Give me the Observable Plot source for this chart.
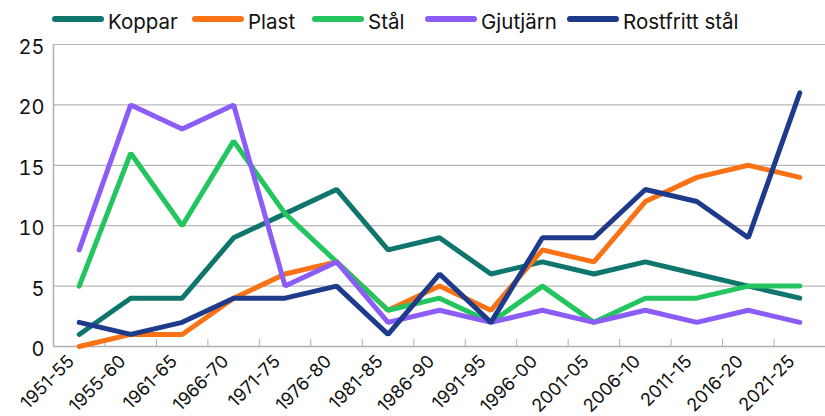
<!DOCTYPE html>
<html>
<head>
<meta charset="utf-8">
<script src="https://cdn.jsdelivr.net/npm/d3@7"></script>
<script src="https://cdn.jsdelivr.net/npm/@observablehq/plot@0.6"></script>
<style>
  body { margin: 0; background: #fff; font-family: Inter, "Noto Sans", sans-serif; }
  #wrap { position: relative; width: 825px; height: 416px; }
  .item { position: absolute; top: 9px; height: 24px; display: flex; align-items: center; font-size: 20.5px; color: #111; white-space: nowrap; }
  .sw { width: 52px; height: 6px; border-radius: 3px; margin-right: 4px; margin-top: -5px; }
</style>
</head>
<body>
<div id="wrap">
<div id="chart"></div>
<div id="legend"></div>
</div>
<script>
const categories = ["1951-55","1955-60","1961-65","1966-70","1971-75","1976-80","1981-85","1986-90","1991-95","1996-00","2001-05","2006-10","2011-15","2016-20","2021-25"];
const seriesNames = ["Koppar","Plast","Stål","Gjutjärn","Rostfritt stål"];
const koppar    = [1,4,4,9,11,13,8,9,6,7,6,7,6,5,4];
const plast     = [0,1,1,4,6,7,3,5,3,8,7,12,14,15,14];
const stal      = [5,16,10,17,11,7,3,4,2,5,2,4,4,5,5];
const gjutjarn  = [8,20,18,20,5,7,2,3,2,3,2,3,2,3,2];
const rostfritt = [2,1,2,4,4,5,1,6,2,9,9,13,12,9,21];
const yTicks = [0,5,10,15,20,25];
const colors = ["#0f766e","#f97316","#22c55e","#8b5cf6","#1e3a8a"];
const legendLeft = [52, 192, 312, 425, 567];

const seriesValues = [koppar, plast, stal, gjutjarn, rostfritt];
const data = [];
seriesNames.forEach((s, k) => seriesValues[k].forEach((v, i) => data.push({series: s, i, value: v})));
const idx = categories.map((_, i) => i);
const boundaries = d3.range(-0.5, categories.length, 1);

const legend = document.getElementById("legend");
seriesNames.forEach((s, k) => {
  const it = document.createElement("div");
  it.className = "item";
  it.style.left = legendLeft[k] + "px";
  it.innerHTML = `<div class="sw" style="background:${colors[k]}"></div><span>${s}</span>`;
  legend.appendChild(it);
});

const chart = Plot.plot({
  width: 825,
  height: 416,
  marginTop: 44,
  marginLeft: 53,
  marginRight: 0,
  marginBottom: 70,
  style: {fontFamily: "Inter, 'Noto Sans', sans-serif", background: "#fff"},
  x: {domain: [-0.5, categories.length - 0.5]},
  y: {domain: [0, 25]},
  color: {domain: seriesNames, range: colors},
  marks: [
    Plot.gridY(yTicks.filter(d => d > 0), {stroke: "#b8b8b8", strokeOpacity: 1, strokeWidth: 1.2}),
    Plot.ruleY([0], {stroke: "#b0b0b0", strokeWidth: 1.5}),
    Plot.ruleX([-0.5], {stroke: "#b0b0b0", strokeWidth: 1.5}),
    Plot.axisY({ticks: yTicks, tickSize: 0, tickPadding: 9, fontSize: 20, fill: "#111", label: null, dy: 3}),
    Plot.axisX({ticks: boundaries, tickSize: -7, tickFormat: () => "", stroke: "#b0b0b0", label: null}),
    Plot.text(idx, {x: d => d, y: 0, text: i => categories[i], rotate: -45, textAnchor: "end", lineAnchor: "middle", dx: -8, dy: 12, fontSize: 18, fill: "#111"}),
    Plot.lineY(data, {x: "i", y: "value", z: "series", stroke: "series", strokeWidth: 5, strokeLinecap: "round", strokeLinejoin: "miter"})
  ]
});
document.getElementById("chart").appendChild(chart);
</script>
</body>
</html>
